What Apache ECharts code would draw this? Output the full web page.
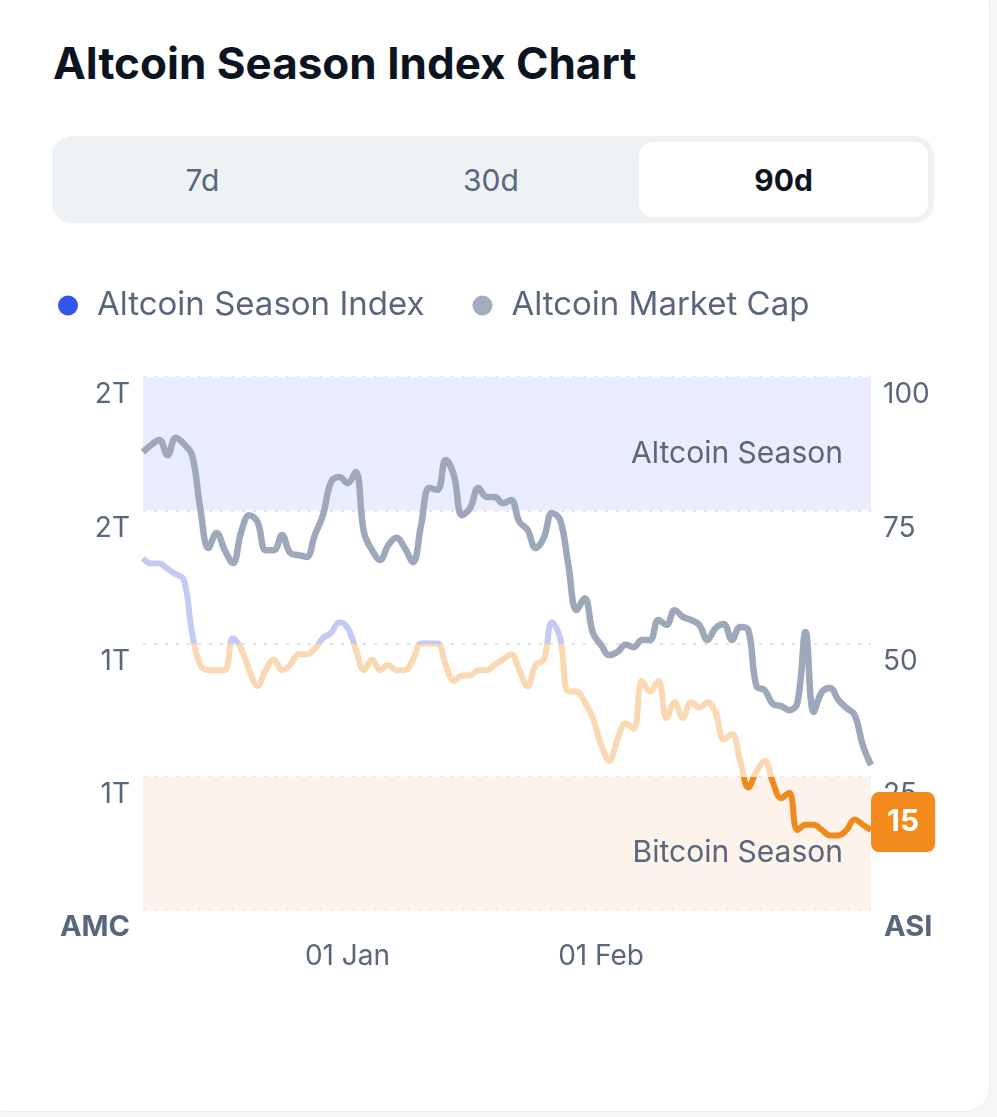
<!DOCTYPE html>
<html>
<head>
<meta charset="utf-8">
<script src="https://cdn.jsdelivr.net/npm/echarts@6/dist/echarts.min.js"></script>
<style>
  html, body { margin: 0; padding: 0; }
  body { width: 997px; height: 1117px; background: #f5f6f8; position: relative; overflow: hidden; font-family: Inter, "Noto Sans", sans-serif; }
  .card { position: absolute; left: -20px; top: -20px; width: 1008px; height: 1130px; background: #fff; border: 1px solid #e9ecf0; border-radius: 24px; }
  .title { position: absolute; left: 53px; top: 41px; font-size: 44px; line-height: 44px; font-weight: 700; color: #0d1421; }
  .tabs { position: absolute; left: 52px; top: 136px; width: 870px; height: 75px; padding: 6px; background: #eff2f5; border-radius: 20px; display: flex; }
  .tab { flex: 1; display: flex; align-items: center; justify-content: center; font-size: 30px; color: #58667e; border-radius: 14px; }
  .tab.on { background: #fff; color: #0d1421; font-weight: 700; margin-left: 4px; }
  #grafica { position: absolute; left: 0; top: 0; width: 997px; height: 1117px; }
</style>
</head>
<body>
<div class="card"></div>
<div class="title">Altcoin Season Index Chart</div>
<div class="tabs">
  <div class="tab">7d</div>
  <div class="tab">30d</div>
  <div class="tab on">90d</div>
</div>
<div id="grafica"></div>
<script>
// indice altcoin season (0-100), un valor por dia
const asi = [66,65,65,64,63,62,52,46,45,45,45,51,49,45,42,45,47,45,46,48,48,49,51,52,54,53,49,45,47,45,46,45,45,47,50,50,50,46,43,44,44,45,45,46,47,48,45,42,46,47,54,51,41,41,39,36,31,28,32,35,34,43,41,43,36,39,36,39,38,39,37,32,33,28,23,26,28,24,21,22,15,16,16,15,14,14,15,17,16,15];
// altcoin market cap en miles de millones (B)
const amc = [1631,1647,1658,1624,1663,1649,1624,1505,1415,1449,1410,1381,1451,1489,1474,1410,1410,1444,1404,1399,1395,1444,1489,1564,1575,1561,1586,1451,1410,1388,1422,1438,1415,1383,1467,1550,1546,1613,1579,1489,1505,1550,1530,1530,1516,1523,1474,1456,1415,1438,1494,1478,1377,1275,1302,1224,1197,1174,1181,1197,1192,1208,1208,1253,1242,1275,1260,1253,1242,1208,1235,1244,1208,1237,1230,1104,1095,1064,1059,1050,1066,1226,1046,1091,1100,1073,1055,1039,971,926];
const xTicks = ['01 Jan', '01 Feb'];
const bandas = [['Altcoin Season', 75, 100], ['Bitcoin Season', 0, 25]];

const meses = ['Jan','Feb','Mar','Apr','May','Jun','Jul','Aug','Sep','Oct','Nov','Dec'];
const fechas = [];
for (let i = 0; i < asi.length; i++) {
  const d = new Date(Date.UTC(2024, 11, 7 + i));
  fechas.push(String(d.getUTCDate()).padStart(2, '0') + ' ' + meses[d.getUTCMonth()]);
}

var dom = document.getElementById('grafica');
var myChart = echarts.init(dom, null, { renderer: 'canvas' });

const gris = '#58667e';
const fuente = 'Inter, "Noto Sans", sans-serif';

var option = {
  animation: false,
  textStyle: { fontFamily: fuente },
  legend: {
    left: 53,
    top: 284,
    icon: 'circle',
    itemWidth: 20,
    itemHeight: 20,
    itemGap: 48,
    textStyle: { fontSize: 33, color: gris, padding: [0, 0, 0, 14], fontFamily: fuente },
    data: ['Altcoin Season Index', 'Altcoin Market Cap']
  },
  grid: { left: 143, right: 126, top: 377, bottom: 207 },
  visualMap: {
    show: false,
    type: 'piecewise',
    seriesIndex: 0,
    dimension: 1,
    pieces: [
      { lte: 25, color: '#f08a1c' },
      { gt: 25, lte: 50, color: '#fad8b2' },
      { gt: 50, color: '#c3caf6' }
    ]
  },
  xAxis: {
    type: 'category',
    boundaryGap: false,
    data: fechas,
    axisLine: { show: false },
    axisTick: { show: false },
    axisLabel: {
      interval: function (i, v) { return xTicks.includes(v); },
      margin: 33,
      fontSize: 28,
      color: gris
    }
  },
  yAxis: [
    {
      type: 'value',
      name: 'AMC',
      nameLocation: 'start',
      nameGap: 17,
      nameTextStyle: { fontSize: 29, fontWeight: 'bold', color: gris, align: 'right', verticalAlign: 'middle', padding: [0, 13, 0, 0] },
      min: 600,
      max: 1800,
      interval: 300,
      position: 'left',
      axisLine: { show: false },
      axisTick: { show: false },
      splitLine: { show: false },
      axisLabel: {
        showMinLabel: false,
        margin: 13,
        fontSize: 28,
        color: gris,
        verticalAlign: 'top',
        padding: [4, 0, 0, 0],
        formatter: function (v) { return Math.round(v / 1000) + 'T'; }
      }
    },
    {
      type: 'value',
      name: 'ASI',
      nameLocation: 'start',
      nameGap: 17,
      nameTextStyle: { fontSize: 29, fontWeight: 'bold', color: gris, align: 'left', verticalAlign: 'middle', padding: [0, 0, 0, 13] },
      min: 0,
      max: 100,
      interval: 25,
      position: 'right',
      axisLine: { show: false },
      axisTick: { show: false },
      splitLine: { show: true, lineStyle: { color: '#dfe3ea', width: 2, type: [3, 8] } },
      axisLabel: {
        showMinLabel: false,
        margin: 12,
        fontSize: 28,
        color: gris,
        verticalAlign: 'top',
        padding: [4, 0, 0, 0]
      }
    }
  ],
  series: [
    {
      name: 'Altcoin Season Index',
      type: 'line',
      yAxisIndex: 1,
      data: asi,
      smooth: 0.4,
      showSymbol: false,
      z: 3,
      itemStyle: { color: '#3355ee' },
      lineStyle: { width: 6 },
      endLabel: {
        show: true,
        formatter: '{c}',
        distance: 0,
        offset: [0, -8],
        color: '#fff',
        fontSize: 30,
        fontWeight: 'bold',
        backgroundColor: '#f38b1c',
        borderRadius: 8,
        padding: [15, 16]
      },
      markArea: {
        silent: true,
        data: [
          [{ name: bandas[0][0], yAxis: bandas[0][1], itemStyle: { color: '#eaedfd' } }, { yAxis: bandas[0][2] }],
          [{ name: bandas[1][0], yAxis: bandas[1][1], itemStyle: { color: '#fdf3ea' } }, { yAxis: bandas[1][2] }]
        ],
        label: {
          position: 'insideRight',
          distance: 28,
          offset: [0, 10],
          fontSize: 30,
          color: gris
        }
      }
    },
    {
      name: 'Altcoin Market Cap',
      type: 'line',
      yAxisIndex: 0,
      data: amc,
      smooth: 0.4,
      showSymbol: false,
      z: 2,
      itemStyle: { color: '#a3adbf' },
      lineStyle: { width: 6.5, color: '#9ea8bb' }
    }
  ]
};

myChart.setOption(option);
window.addEventListener('resize', myChart.resize);
</script>
</body>
</html>
